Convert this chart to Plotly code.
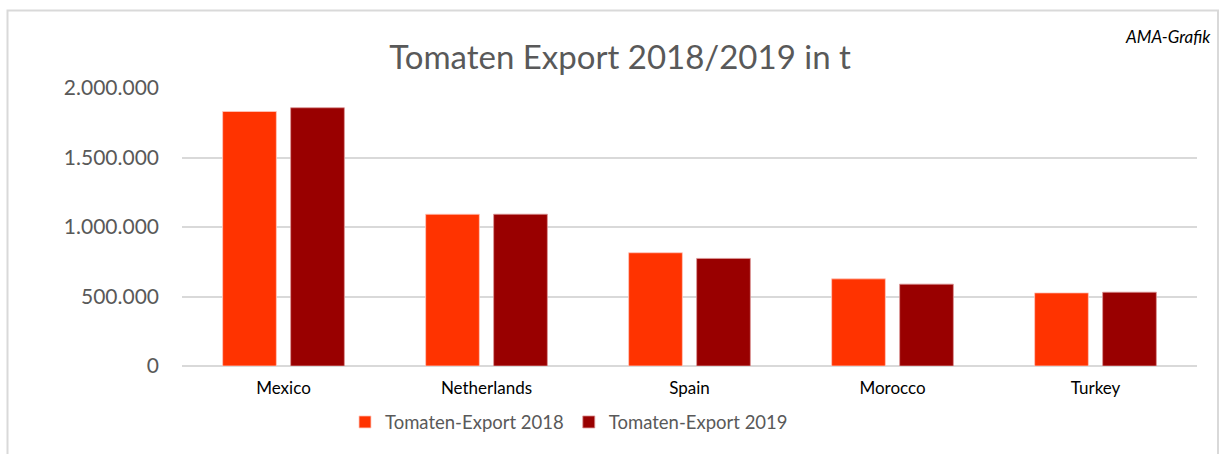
import plotly.graph_objects as go

countries = ["Mexico", "Netherlands", "Spain", "Morocco", "Turkey"]
export_2018 = [1831000, 1092000, 815000, 627000, 526000]
export_2019 = [1858000, 1092000, 774000, 589000, 531000]
series_names = ["Tomaten-Export 2018", "Tomaten-Export 2019"]
y_ticks = [0, 500000, 1000000, 1500000, 2000000]

FONT = "Lato"
fig = go.Figure()
fig.add_trace(go.Bar(x=countries, y=export_2018, name=series_names[0],
                     marker=dict(color="#FF3300", line=dict(color="rgba(255,200,190,0.8)", width=1))))
fig.add_trace(go.Bar(x=countries, y=export_2019, name=series_names[1],
                     marker=dict(color="#990000", line=dict(color="rgba(220,150,150,0.8)", width=1))))

PH = 277.4  # plot height in px
PW = 1015.0
fig.update_layout(
    width=1223, height=454,
    margin=dict(l=182, r=26, t=88, b=88, autoexpand=False),
    paper_bgcolor="white", plot_bgcolor="white",
    separators=",.",
    barmode="group", bargap=0.33, bargroupgap=0.21,
    font=dict(family=FONT, color="#595959"),
    title=dict(text="Tomaten Export 2018/2019 in t", x=0.507, xanchor="center",
               y=1 - 57 / 454, yanchor="middle",
               font=dict(family=FONT, size=33, color="#595959")),
    xaxis=dict(showgrid=False, showline=False, ticks="", automargin=False,
               ticklabelstandoff=10,
               tickfont=dict(family=FONT, size=17, color="#000000")),
    yaxis=dict(range=[0, 2000000], tickvals=y_ticks, tickformat=",d",
               showgrid=True, gridcolor="#D9D9D9", gridwidth=1.5,
               zeroline=True, zerolinecolor="#D9D9D9", zerolinewidth=1.5,
               showline=False, ticks="", ticklabelstandoff=22, automargin=False,
               tickfont=dict(family=FONT, size=21, color="#595959")),
    legend=dict(orientation="h", x=(569 - 182) / PW, xanchor="center",
                y=-(422 - 365.7) / PH, yanchor="middle",
                bgcolor="rgba(0,0,0,0)",
                font=dict(family=FONT, size=18.5, color="#595959"),
                itemwidth=30, traceorder="normal"),
    annotations=[dict(text="<i>AMA-Grafik</i>", xref="paper", yref="paper",
                      x=(1213 - 182) / PW, y=1 + (88 - 37) / PH,
                      xanchor="right", yanchor="middle", showarrow=False,
                      font=dict(family=FONT, size=17, color="#000000"))],
    shapes=[dict(type="rect", xref="paper", yref="paper",
                 x0=(7.5 - 182) / PW, x1=(1218 - 182) / PW,
                 y0=-0.5, y1=1 + (88.3 - 11) / PH,
                 line=dict(color="#D9D9D9", width=2), layer="below")],
)

fig.write_html("out.html", config={"displayModeBar": False},
               post_script="document.body.style.margin='0';")
